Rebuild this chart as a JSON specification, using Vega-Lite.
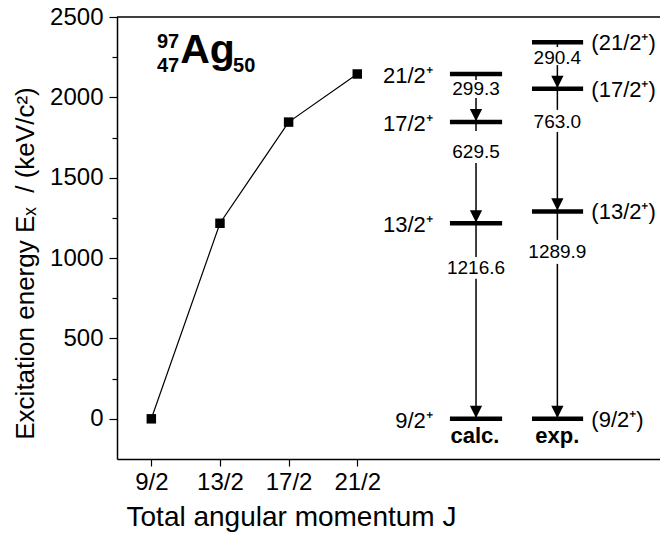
{
  "$schema": "https://vega.github.io/schema/vega-lite/v6.json",
  "width": 543,
  "height": 442,
  "autosize": {"type": "none"},
  "padding": {"left": 117, "top": 17, "right": 0, "bottom": 76},
  "background": "white",
  "config": {
    "view": {"stroke": null},
    "font": "Liberation Sans",
    "axis": {"grid": false, "domainColor": "black", "tickColor": "black", "labelColor": "black", "titleColor": "black", "titleFontWeight": "normal"}
  },
  "datasets": {
    "curve": [
      {"x": 4.5, "y": 0},
      {"x": 6.5, "y": 1216.6},
      {"x": 8.5, "y": 1846.1},
      {"x": 10.5, "y": 2145.4}
    ],
    "frame": [
      {"x": 3.5, "x2": 19.32, "y": 2500}
    ],
    "levels": [
      {"x": 13.2, "x2": 14.72, "y": 0},
      {"x": 13.2, "x2": 14.72, "y": 1216.6},
      {"x": 13.2, "x2": 14.72, "y": 1846.1},
      {"x": 13.2, "x2": 14.72, "y": 2145.4},
      {"x": 15.59, "x2": 17.08, "y": 0},
      {"x": 15.59, "x2": 17.08, "y": 1289.9},
      {"x": 15.59, "x2": 17.08, "y": 2052.9},
      {"x": 15.59, "x2": 17.08, "y": 2343.3}
    ],
    "segments": [
      {"x": 13.96, "y": 2145.4, "y2": 2108},
      {"x": 13.96, "y": 1996, "y2": 1846.1},
      {"x": 13.96, "y": 1846.1, "y2": 1791},
      {"x": 13.96, "y": 1592, "y2": 1216.6},
      {"x": 13.96, "y": 1216.6, "y2": 1007},
      {"x": 13.96, "y": 871, "y2": 0},
      {"x": 16.33, "y": 2343.3, "y2": 2313},
      {"x": 16.33, "y": 2201, "y2": 2052.9},
      {"x": 16.33, "y": 2052.9, "y2": 1922},
      {"x": 16.33, "y": 1785, "y2": 1289.9},
      {"x": 16.33, "y": 1289.9, "y2": 1113},
      {"x": 16.33, "y": 964, "y2": 0}
    ],
    "arrows": [
      {"x": 13.96, "y": 1846.1},
      {"x": 13.96, "y": 1216.6},
      {"x": 13.96, "y": 0},
      {"x": 16.33, "y": 2052.9},
      {"x": 16.33, "y": 1289.9},
      {"x": 16.33, "y": 0}
    ],
    "energies": [
      {"x": 13.96, "y": 2052, "text": "299.3"},
      {"x": 13.96, "y": 1663, "text": "629.5"},
      {"x": 13.96, "y": 937, "text": "1216.6"},
      {"x": 16.33, "y": 2248, "text": "290.4"},
      {"x": 16.33, "y": 1847, "text": "763.0"},
      {"x": 16.33, "y": 1040, "text": "1289.9"}
    ],
    "calcspins": [
      {"x": 12.7, "y": 0, "text": "9/2⁺"},
      {"x": 12.7, "y": 1216.6, "text": "13/2⁺"},
      {"x": 12.7, "y": 1846.1, "text": "17/2⁺"},
      {"x": 12.7, "y": 2145.4, "text": "21/2⁺"}
    ],
    "expspins": [
      {"x": 17.32, "y": 0, "text": "(9/2⁺)"},
      {"x": 17.32, "y": 1289.9, "text": "(13/2⁺)"},
      {"x": 17.32, "y": 2052.9, "text": "(17/2⁺)"},
      {"x": 17.32, "y": 2343.3, "text": "(21/2⁺)"}
    ],
    "tags": [
      {"x": 13.93, "y": -149, "text": "calc."},
      {"x": 16.33, "y": -149, "text": "exp."}
    ],
    "nuclide": [
      {"x": 5.34, "y": 2214, "text": "Ag"}
    ],
    "nucleons": [
      {"x": 5.31, "y": 2307, "text": "97"},
      {"x": 5.31, "y": 2158, "text": "47"}
    ],
    "neutrons": [
      {"x": 6.88, "y": 2158, "text": "50"}
    ]
  },
  "layer": [
    {
      "data": {"name": "curve"},
      "mark": {"type": "line", "color": "black", "strokeWidth": 1.2, "point": {"shape": "square", "size": 90, "color": "black", "filled": true}},
      "encoding": {
        "x": {
          "field": "x", "type": "quantitative",
          "scale": {"domain": [3.5, 19.32], "nice": false, "zero": false},
          "axis": {
            "title": "Total angular momentum J",
            "titleFontSize": 28,
            "titleBaseline": "alphabetic",
            "titleAlign": "center",
            "titleX": 174,
            "titleY": 66,
            "values": [4.5, 6.5, 8.5, 10.5],
            "labelExpr": "(datum.value * 2) + '/2'",
            "labelFontSize": 24,
            "labelPadding": 4,
            "tickSize": 7,
            "tickWidth": 1.2,
            "domainWidth": 1.5,
            "labelFlush": false
          }
        },
        "y": {
          "field": "y", "type": "quantitative",
          "scale": {"domain": [-250, 2500], "nice": false, "zero": false},
          "axis": {
            "title": "Excitation energy Eₓ\u00a0\u00a0/ (keV/c²)",
            "titleFontSize": 26,
            "titleAngle": -90,
            "titleBaseline": "alphabetic",
            "titleAlign": "center",
            "titleX": -84,
            "titleY": 246,
            "values": [0, 250, 500, 750, 1000, 1250, 1500, 1750, 2000, 2250, 2500],
            "labelExpr": "datum.value % 500 === 0 ? format(datum.value, 'd') : ''",
            "labelFontSize": 24,
            "labelPadding": 6,
            "tickSize": {"condition": {"test": "datum.value % 500 === 0", "value": 8}, "value": 5},
            "tickWidth": 1.2,
            "domainWidth": 1.5,
            "labelFlush": false
          }
        }
      }
    },
    {
      "data": {"name": "frame"},
      "mark": {"type": "rule", "color": "black", "strokeWidth": 1.5},
      "encoding": {
        "x": {"field": "x", "type": "quantitative"},
        "x2": {"field": "x2"},
        "y": {"field": "y", "type": "quantitative"}
      }
    },
    {
      "data": {"name": "segments"},
      "mark": {"type": "rule", "color": "black", "strokeWidth": 1.5},
      "encoding": {
        "x": {"field": "x", "type": "quantitative"},
        "y": {"field": "y", "type": "quantitative"},
        "y2": {"field": "y2"}
      }
    },
    {
      "data": {"name": "levels"},
      "mark": {"type": "rule", "color": "black", "strokeWidth": 4.5, "strokeCap": "butt"},
      "encoding": {
        "x": {"field": "x", "type": "quantitative"},
        "x2": {"field": "x2"},
        "y": {"field": "y", "type": "quantitative"}
      }
    },
    {
      "data": {"name": "arrows"},
      "mark": {"type": "point", "shape": "M-1,-1L1,-1L0,1Z", "size": 150, "filled": true, "color": "black", "opacity": 1, "yOffset": -7},
      "encoding": {
        "x": {"field": "x", "type": "quantitative"},
        "y": {"field": "y", "type": "quantitative"}
      }
    },
    {
      "data": {"name": "energies"},
      "mark": {"type": "text", "fontSize": 19, "align": "center", "baseline": "middle", "color": "black"},
      "encoding": {
        "x": {"field": "x", "type": "quantitative"},
        "y": {"field": "y", "type": "quantitative"},
        "text": {"field": "text"}
      }
    },
    {
      "data": {"name": "calcspins"},
      "mark": {"type": "text", "fontSize": 22, "align": "right", "baseline": "middle", "dy": 2, "color": "black"},
      "encoding": {
        "x": {"field": "x", "type": "quantitative"},
        "y": {"field": "y", "type": "quantitative"},
        "text": {"field": "text"}
      }
    },
    {
      "data": {"name": "expspins"},
      "mark": {"type": "text", "fontSize": 22, "align": "left", "baseline": "middle", "dy": 1, "color": "black"},
      "encoding": {
        "x": {"field": "x", "type": "quantitative"},
        "y": {"field": "y", "type": "quantitative"},
        "text": {"field": "text"}
      }
    },
    {
      "data": {"name": "tags"},
      "mark": {"type": "text", "fontSize": 22, "fontWeight": "bold", "align": "center", "baseline": "alphabetic", "color": "black"},
      "encoding": {
        "x": {"field": "x", "type": "quantitative"},
        "y": {"field": "y", "type": "quantitative"},
        "text": {"field": "text"}
      }
    },
    {
      "data": {"name": "nuclide"},
      "mark": {"type": "text", "fontSize": 41, "fontWeight": "bold", "align": "left", "baseline": "alphabetic", "color": "black"},
      "encoding": {
        "x": {"field": "x", "type": "quantitative"},
        "y": {"field": "y", "type": "quantitative"},
        "text": {"field": "text"}
      }
    },
    {
      "data": {"name": "nucleons"},
      "mark": {"type": "text", "fontSize": 20, "fontWeight": "bold", "align": "right", "baseline": "alphabetic", "color": "black"},
      "encoding": {
        "x": {"field": "x", "type": "quantitative"},
        "y": {"field": "y", "type": "quantitative"},
        "text": {"field": "text"}
      }
    },
    {
      "data": {"name": "neutrons"},
      "mark": {"type": "text", "fontSize": 20, "fontWeight": "bold", "align": "left", "baseline": "alphabetic", "color": "black"},
      "encoding": {
        "x": {"field": "x", "type": "quantitative"},
        "y": {"field": "y", "type": "quantitative"},
        "text": {"field": "text"}
      }
    }
  ]
}
